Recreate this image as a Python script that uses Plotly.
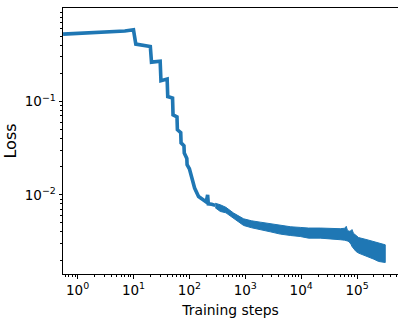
import plotly.graph_objects as go

# ---- data ----
# early (staircase) phase: centre line of the curve
line_steps = [0.55, 1, 2, 4, 7, 10, 11, 20, 21, 30, 31, 40, 41, 50, 51, 60, 61, 70, 71, 80, 81,
              90, 91, 100, 108, 124, 146, 180, 200, 212, 218, 250, 290]
line_loss = [0.527, 0.535, 0.543, 0.550, 0.569, 0.586, 0.412, 0.389, 0.264, 0.270, 0.167, 0.174,
             0.113, 0.109, 0.072, 0.0685, 0.0498, 0.0463, 0.036, 0.0335, 0.028,
             0.0245, 0.021, 0.019, 0.0157, 0.0118, 0.0096, 0.0087, 0.0084, 0.0100, 0.0080, 0.0079, 0.0077]

# late (noisy) phase: upper / lower envelope of the noisy loss
band_steps = [290, 357, 450, 618, 933, 1300, 1854, 2800, 4225, 6500, 9630, 13550, 21930, 35000,
              50000, 60000, 64100, 67000, 72000, 78000, 81100, 86000, 95000, 106400, 150400,
              200000, 242500, 319000]
band_upper = [8.11e-3, 7.82e-3, 7.34e-3, 6.37e-3, 5.53e-3, 5.26e-3, 5.09e-3, 4.89e-3, 4.69e-3,
              4.54e-3, 4.47e-3, 4.40e-3, 4.40e-3, 4.34e-3, 4.33e-3, 4.38e-3, 4.59e-3, 4.17e-3,
              4.06e-3, 4.11e-3, 4.24e-3, 3.87e-3, 3.64e-3, 3.48e-3, 3.30e-3, 3.13e-3, 3.03e-3, 2.91e-3]
band_lower = [7.26e-3, 6.63e-3, 6.41e-3, 5.63e-3, 4.69e-3, 4.43e-3, 4.22e-3, 4.01e-3, 3.79e-3,
              3.66e-3, 3.57e-3, 3.43e-3, 3.43e-3, 3.35e-3, 3.30e-3, 3.26e-3, 3.23e-3, 3.20e-3,
              3.13e-3, 2.94e-3, 2.79e-3, 2.64e-3, 2.48e-3, 2.37e-3, 2.18e-3, 2.04e-3, 1.93e-3, 1.88e-3]

x_tick_vals = [1, 10, 100, 1000, 10000, 100000]
x_tick_text = ["10<sup>0</sup>", "10<sup>1</sup>", "10<sup>2</sup>", "10<sup>3</sup>",
               "10<sup>4</sup>", "10<sup>5</sup>"]
y_tick_vals = [0.01, 0.1]
y_tick_text = ["10<sup>\u22122</sup>", "10<sup>\u22121</sup>"]

COLOR = "#1f77b4"
FONT = "DejaVu Sans"

x_minor = [m * 10 ** k for k in range(-1, 6) for m in range(2, 10)]
y_minor = [m * 10 ** k for k in range(-3, 0) for m in range(2, 10)]

fig = go.Figure()
fig.add_trace(go.Scatter(
    x=band_steps + band_steps[::-1],
    y=band_upper + band_lower[::-1],
    mode="lines", fill="toself", fillcolor=COLOR,
    line=dict(color=COLOR, width=1), hoverinfo="skip", showlegend=False,
))
fig.add_trace(go.Scatter(
    x=line_steps, y=line_loss, mode="lines",
    line=dict(color=COLOR, width=3.6), showlegend=False,
))

axis_common = dict(
    type="log", showgrid=False, zeroline=False, showline=True, linecolor="black", linewidth=1,
    ticks="outside", ticklen=3.5, tickwidth=1, tickcolor="black",
    tickfont=dict(family=FONT, size=13.5, color="black"), tickmode="array",
)

fig.update_layout(
    width=398, height=321,
    margin=dict(l=63, r=0, t=8, b=47),
    paper_bgcolor="white", plot_bgcolor="white",
    xaxis=dict(
        **axis_common, range=[-0.261, 5.732], mirror=True,
        tickvals=x_tick_vals, ticktext=x_tick_text,
        minor=dict(ticks="outside", ticklen=2, tickwidth=1, tickcolor="black",
                   tickvals=x_minor, showgrid=False),
        title=dict(text="Training steps", font=dict(family=FONT, size=13.9, color="black"), standoff=8),
        automargin=False,
    ),
    yaxis=dict(
        **axis_common, range=[-2.849, 0.002],
        tickvals=y_tick_vals, ticktext=y_tick_text,
        minor=dict(ticks="outside", ticklen=2, tickwidth=1, tickcolor="black",
                   tickvals=y_minor, showgrid=False),
        title=dict(text="Loss", font=dict(family=FONT, size=16, color="black"), standoff=4),
        automargin=False,
    ),
)

fig.write_html(
    "out.html",
    config={"displayModeBar": False},
    post_script="document.body.style.margin='0px';document.body.style.overflow='hidden';",
)
